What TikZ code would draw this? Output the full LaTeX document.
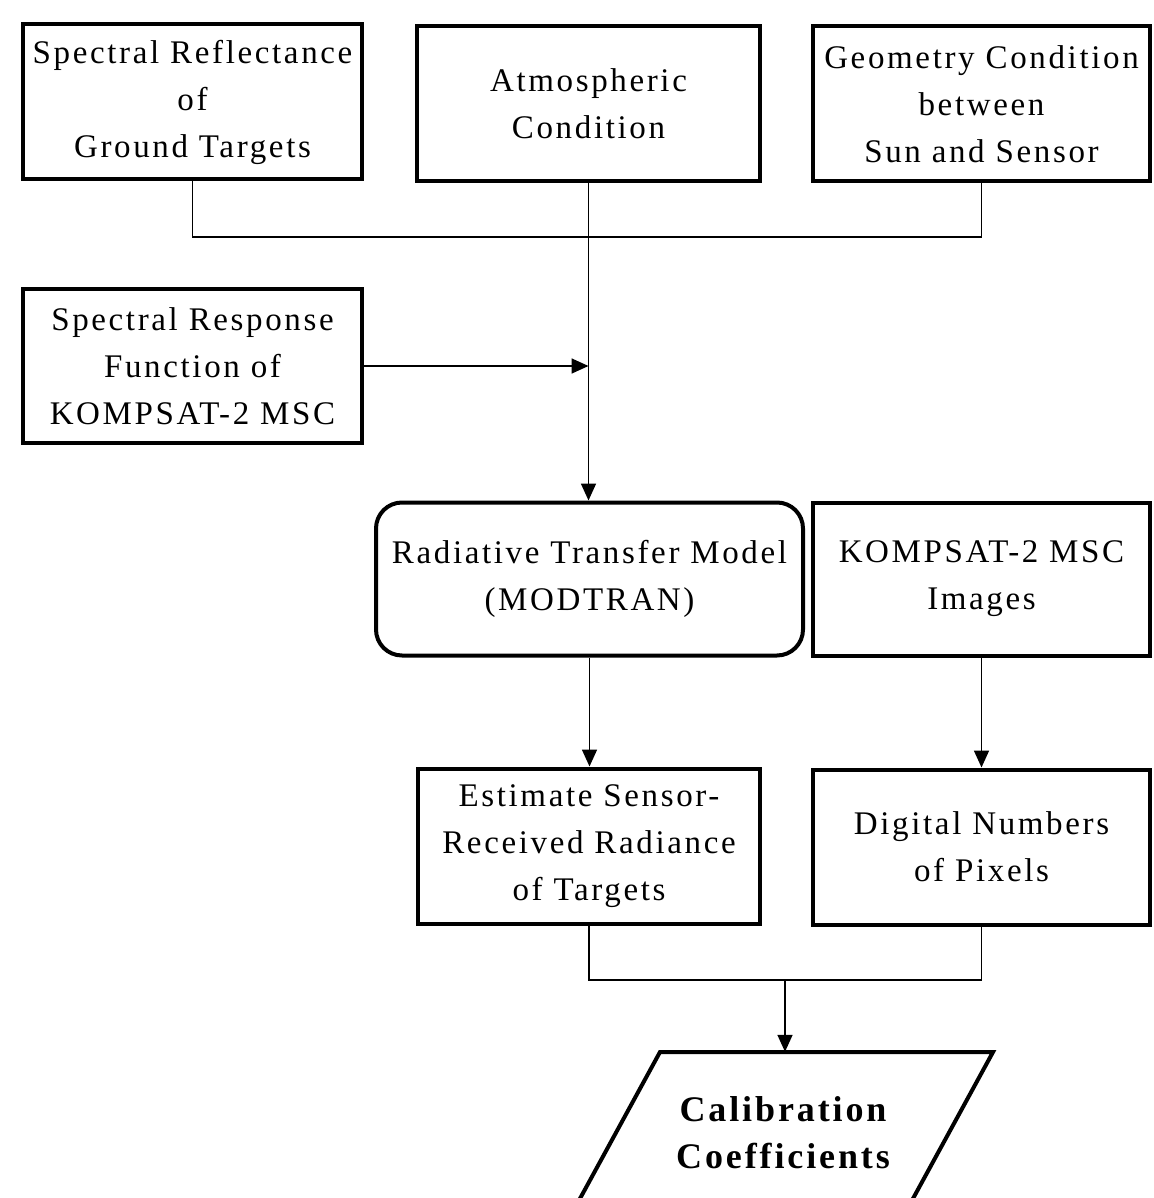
\documentclass[tikz,border=0pt]{standalone}
\usepackage{fontspec}
\setmainfont{Liberation Serif}[LetterSpace=8]
\usetikzlibrary{arrows.meta}

\begin{document}
\begin{tikzpicture}[x=1pt, y=-1pt]
		\tikzset{bx/.style={rectangle, draw=black, line width=4pt, minimum width=340pt, minimum height=155pt, inner sep=0pt, align=center, font=\fontsize{33}{47}\selectfont},
			rbx/.style={bx, rounded corners=26pt},
			pg/.style={draw=none, minimum width=330pt, minimum height=162pt, inner sep=0pt, align=center, font=\bfseries\fontsize{36}{47}\selectfont},
			pgline/.style={line width=4pt, line join=miter},
			ln/.style={line width=1.7pt},
			arr/.style={ln, -{Triangle[length=17pt, width=15pt]}}};

		\useasboundingbox (0, 0) rectangle (1153, 1198);
		\clip (0, 0) rectangle (1153, 1198);

		\node[bx, minimum width=339pt] (refl) at (192.5, 102) {Spectral Reflectance\\of\\Ground Targets};
		\node[bx, minimum width=343pt] (atmos) at (588.5, 104) {Atmospheric\\Condition};
		\node[bx, minimum width=337pt] (geom) at (981.5, 104) {Geometry Condition\\between\\Sun and Sensor};
		\node[bx, minimum width=339pt, minimum height=154pt] (resp) at (192.5, 366) {Spectral Response\\Function of\\KOMPSAT-2 MSC};
		\node[rbx, minimum width=427pt, minimum height=153pt] (rtm) at (589.5, 579) {Radiative Transfer Model\\(MODTRAN)};
		\node[bx, minimum width=337pt, minimum height=153pt] (imgs) at (981.5, 579) {KOMPSAT-2 MSC\\Images};
		\node[bx, minimum width=342pt] (est) at (589, 846) {Estimate Sensor-\\Received Radiance\\of Targets};
		\node[bx, minimum width=337pt] (dn) at (981.5, 847) {Digital Numbers\\of Pixels};
		\node[pg] (calib) at (783, 1133) {Calibration\\Coefficients};

		% parallelogram round the result
		\draw[pgline] (660, 1052) -- (993, 1052) -- (874, 1270) -- (541, 1270) -- cycle;

		\coordinate (topjoin) at (588.5, 237);
		\coordinate (botjoin) at (785, 980);

		\draw[ln] (refl.south) |- (topjoin) -| (geom.south);
		\draw[arr] (atmos.south) -- (atmos.south |- rtm.north);
		\draw[arr] (resp.east) -- (resp.east -| atmos.south);

		\draw[arr] (rtm.south) -- (rtm.south |- est.north);
		\draw[arr] (imgs.south) -- (dn.north);

		\draw[ln] (est.south) |- (botjoin) -| (dn.south);
		\draw[arr] (botjoin) -- (botjoin |- calib.north);

	\end{tikzpicture}
\end{document}
